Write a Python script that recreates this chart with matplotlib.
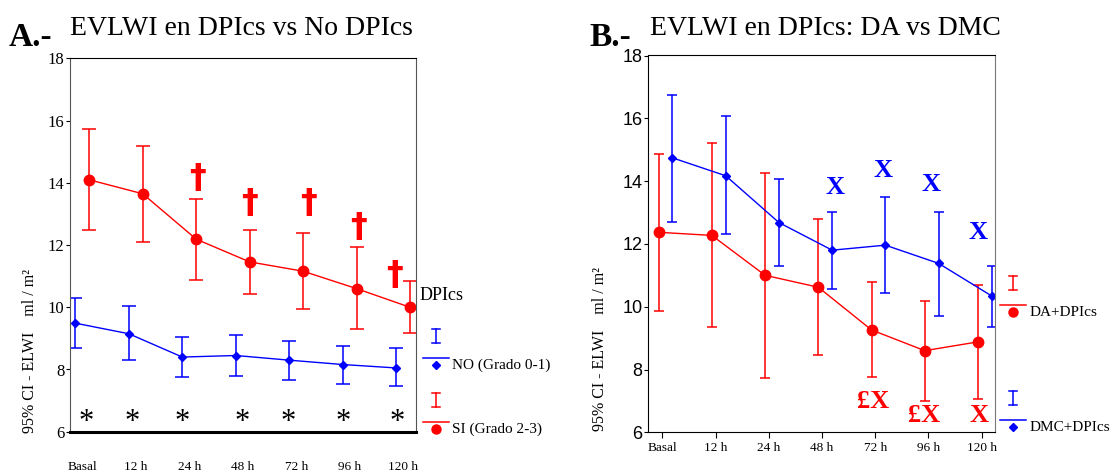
import matplotlib
matplotlib.use("Agg")
import matplotlib.pyplot as plt
from matplotlib.lines import Line2D
import numpy as np

plt.rcParams['font.family'] = ['Liberation Serif', 'DejaVu Serif']

labels = ["Basal", "12 h", "24 h", "48 h", "72 h", "96 h", "120 h"]

# A: EVLWI en DPIcs vs No DPIcs
a_si = [14.10, 13.65, 12.19, 11.46, 11.16, 10.60, 10.00]
a_si_hi = [15.72, 15.19, 13.49, 12.48, 12.40, 11.93, 10.83]
a_si_lo = [12.48, 12.09, 10.88, 10.43, 9.96, 9.30, 9.16]
a_no = [9.49, 9.15, 8.40, 8.45, 8.30, 8.16, 8.05]
a_no_hi = [10.29, 10.03, 9.06, 9.12, 8.93, 8.76, 8.69]
a_no_lo = [8.69, 8.30, 7.77, 7.80, 7.66, 7.53, 7.46]

# B: EVLWI en DPIcs: DA vs DMC
b_da = [12.37, 12.27, 11.00, 10.62, 9.26, 8.60, 8.88]
b_da_hi = [14.86, 15.22, 14.27, 12.78, 10.78, 10.18, 10.68]
b_da_lo = [9.86, 9.35, 7.74, 8.46, 7.77, 7.01, 7.06]
b_dmc = [14.74, 14.17, 12.68, 11.80, 11.96, 11.38, 10.34]
b_dmc_hi = [16.74, 16.06, 14.08, 13.03, 13.48, 13.03, 11.29]
b_dmc_lo = [12.71, 12.31, 11.29, 10.55, 10.43, 9.69, 9.35]

# significance marks
dag_x = [2.15, 3.13, 4.23, 5.17, 5.83]
dag_y = [14.13, 13.34, 13.34, 12.57, 11.02]
ast_x = [0.08, -0.06, -0.13, -0.01, -0.15, -0.13, -0.12]
bx_x = [3.25, 4.15, 5.04, 5.93]
bx_y = [13.81, 14.33, 13.88, 12.35]
rx_x = [3.96, 4.92, 5.95]
rx_y = [6.97, 6.55, 6.55]
rx_txt = ["£X", "£X", "X"]

RED = "#ff0000"
BLUE = "#0000ff"
W, H = 1110, 473


def px(x, y):
    return x / W, 1 - y / H


def err(vals, hi, lo):
    v = np.array(vals)
    return [v - np.array(lo), np.array(hi) - v]


def legend_item(fig, x, ytop, color, marker, ms, label, lw_cap=4):
    x0, y0 = px(x, ytop)
    _, y1 = px(x, ytop + 14)
    cw = lw_cap / W
    fig.add_artist(Line2D([x0, x0], [y0, y1], color=color, lw=1.1))
    fig.add_artist(Line2D([x0 - cw, x0 + cw], [y0, y0], color=color, lw=1.1))
    fig.add_artist(Line2D([x0 - cw, x0 + cw], [y1, y1], color=color, lw=1.1))
    xl0, yl = px(x - 13, ytop + 29)
    xl1, _ = px(x + 13, ytop + 29)
    fig.add_artist(Line2D([xl0, xl1], [yl, yl], color=color, lw=1.1))
    _, ym = px(x, ytop + 36)
    fig.add_artist(Line2D([x0], [ym], color=color, marker=marker, ms=ms, lw=0))
    tx, ty = px(x + 16, ytop + 36)
    fig.text(tx, ty, label, fontsize=11, va='center', ha='left')


fig = plt.figure(figsize=(11.1, 4.73), dpi=100)
x = np.arange(len(labels))

# ---------- panel A ----------
axA = fig.add_axes([70 / W, 1 - 431.7 / H, 346 / W, 373.2 / H])
axA.errorbar(x + 0.13, a_si, yerr=err(a_si, a_si_hi, a_si_lo), color=RED,
             lw=1.0, elinewidth=1.1, capsize=5, capthick=1.1,
             marker='o', ms=7.5)
axA.errorbar(x - 0.13, a_no, yerr=err(a_no, a_no_hi, a_no_lo), color=BLUE,
             lw=1.0, elinewidth=1.1, capsize=5, capthick=1.1,
             marker='D', ms=4.5)
for xx, yy in zip(dag_x, dag_y):
    axA.text(xx, yy, "\u2020", color=RED, fontsize=24, fontweight='bold',
             family='DejaVu Sans', ha='center', va='center')
for i, dx in enumerate(ast_x):
    axA.text(i + dx, 6.3, "*", fontsize=22, ha='center', va='center')
axA.set_xlim(-0.23, 6.24)
axA.set_ylim(6, 18)
axA.set_yticks(range(6, 19, 2))
axA.set_xticks(x)
axA.set_xticklabels(labels, fontsize=9.5)
axA.tick_params(axis='x', length=0, pad=21)
axA.tick_params(axis='y', length=3, labelsize=12, pad=1)
for s in ['left', 'right']:
    axA.spines[s].set_color('#555555')
axA.spines['bottom'].set_linewidth(2.2)
axA.text(-0.116, 0.216, "95% CI - ELWI    ml / m\u00b2", rotation=90,
         fontsize=11.5, ha='center', va='center', transform=axA.transAxes)

fig.text(*px(420, 296), "DPIcs", fontsize=13, va='center', ha='left')
legend_item(fig, 435.7, 329, BLUE, 'D', 4, "NO (Grado 0-1)")
legend_item(fig, 435.7, 393, RED, 'o', 6.5, "SI (Grado 2-3)")

# ---------- panel B ----------
axB = fig.add_axes([648 / W, 1 - 432.3 / H, 347 / W, 376.8 / H])
axB.errorbar(x - 0.07, b_da, yerr=err(b_da, b_da_hi, b_da_lo), color=RED,
             lw=1.0, elinewidth=1.1, capsize=3.5, capthick=1.1,
             marker='o', ms=7.5)
axB.errorbar(x + 0.19, b_dmc, yerr=err(b_dmc, b_dmc_hi, b_dmc_lo), color=BLUE,
             lw=1.0, elinewidth=1.1, capsize=3.5, capthick=1.1,
             marker='D', ms=4.5)
for xx, yy in zip(bx_x, bx_y):
    axB.text(xx, yy, "X", color=BLUE, fontsize=19, fontweight='bold',
             ha='center', va='center')
for xx, yy, t in zip(rx_x, rx_y, rx_txt):
    axB.text(xx, yy, t, color=RED, fontsize=19, fontweight='bold',
             ha='center', va='center')
axB.set_xlim(-0.27, 6.25)
axB.set_ylim(6, 18)
axB.set_yticks(range(6, 19, 2))
axB.set_yticklabels([str(v) for v in range(6, 19, 2)],
                    fontfamily='Liberation Sans', fontsize=13)
axB.set_xticks(x)
axB.set_xticklabels(labels, fontsize=9.5)
axB.tick_params(axis='x', length=4, pad=3)
axB.tick_params(axis='y', length=3, pad=1)
axB.spines['right'].set_color('#777777')
axB.text(-0.138, 0.222, "95% CI - ELWI    ml / m\u00b2", rotation=90,
         fontsize=11.5, ha='center', va='center', transform=axB.transAxes)

legend_item(fig, 1013.3, 276, RED, 'o', 6.5, "DA+DPIcs")
legend_item(fig, 1013.3, 391, BLUE, 'D', 4, "DMC+DPIcs")

# titles
fig.text(*px(9, 46), "A.-", fontsize=24, fontweight='bold', ha='left', va='baseline')
fig.text(*px(70, 35), "EVLWI en DPIcs vs No DPIcs", fontsize=20, ha='left', va='baseline')
fig.text(*px(589, 46), "B.-", fontsize=24, fontweight='bold', ha='left', va='baseline')
fig.text(*px(650, 35), "EVLWI en DPIcs: DA vs DMC", fontsize=20, ha='left', va='baseline')

fig.savefig("out.png", dpi=100)
